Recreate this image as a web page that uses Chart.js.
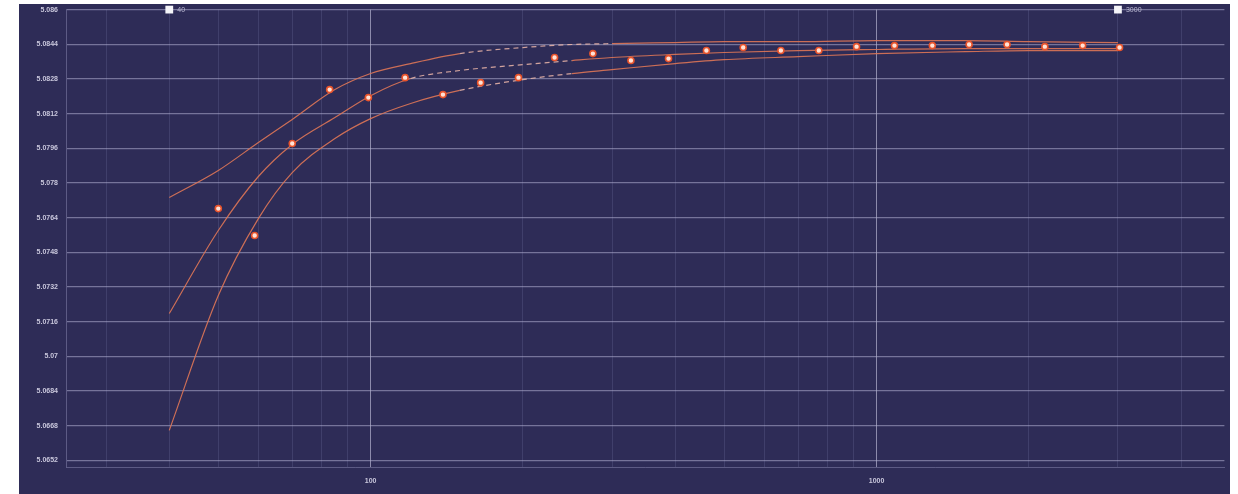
<!DOCTYPE html>
<html>
<head>
<meta charset="utf-8">
<script src="https://cdn.jsdelivr.net/npm/chart.js@4.4.1/dist/chart.umd.min.js"></script>
<style>
  html, body { margin: 0; padding: 0; background: #ffffff; width: 1238px; height: 494px; overflow: hidden; }
  #wrap { position: absolute; left: 19px; top: 4px; width: 1211px; height: 490px; background: #2e2c57; }
  canvas { display: block; }
</style>
</head>
<body>
<div id="wrap"><canvas id="chart" width="1211" height="490"></canvas></div>
<script>
// Measured samples
const sampleX = [50, 59, 70, 83, 99, 117, 139, 165, 196, 231, 275, 327, 388, 461, 545, 647, 769, 913, 1085, 1289, 1524, 1811, 2151, 2555, 3022];
const sampleY = [5.07682, 5.07558, 5.07982, 5.08231, 5.08194, 5.08286, 5.08208, 5.08263, 5.08286, 5.08379,
                 5.08397, 5.08365, 5.08374, 5.08411, 5.08425, 5.08411, 5.08411, 5.08429, 5.08434, 5.08434,
                 5.08439, 5.08439, 5.08429, 5.08434, 5.08425];

// Fitted curves, evaluated on a shared grid
const curveX = [40, 50, 60, 70, 85, 100, 120, 150, 200, 250, 300, 400, 500, 700, 1000, 1500, 2000, 3000];
const curveUpper  = [5.07733, 5.07858, 5.07987, 5.08093, 5.08231, 5.08305, 5.08351, 5.08397, 5.08425, 5.08439,
                     5.08443, 5.08448, 5.08452, 5.08452, 5.08457, 5.08457, 5.08452, 5.08448];
const curveMiddle = [5.07198, 5.07581, 5.07830, 5.07978, 5.08102, 5.08203, 5.08282, 5.08319, 5.08346, 5.08365,
                     5.08379, 5.08393, 5.08402, 5.08411, 5.08416, 5.08420, 5.08420, 5.08420];
const curveLower  = [5.06659, 5.07281, 5.07636, 5.07848, 5.08005, 5.08097, 5.08167, 5.08227, 5.08277, 5.08305,
                     5.08323, 5.08351, 5.08369, 5.08383, 5.08397, 5.08406, 5.08411, 5.08411];

// Fit range end points
const rangeMarks = [40, 3000];

// Axis ticks
const yTickValues = [5.0652, 5.0668, 5.0684, 5.0700, 5.0716, 5.0732, 5.0748, 5.0764, 5.0780, 5.0796, 5.0812, 5.0828, 5.0844, 5.0860];
const xTickValues = [30, 40, 50, 60, 70, 80, 90, 100, 200, 300, 400, 500, 600, 700, 800, 900, 1000, 2000, 3000, 4000];
const xLabelled   = [100, 1000];

const yMin = 5.0649, yMax = 5.0860;
const xMin = 25, xMax = 4870;

const toPoints = (xs, ys) => xs.map((x, i) => ({ x, y: ys[i] }));

// dashed stretch of each curve, in x units
function dashedBetween(lo, hi) {
  const inside = ctx => ctx.p0.parsed.x >= lo && ctx.p0.parsed.x < hi;
  return {
    borderDash: ctx => inside(ctx) ? [5, 4] : undefined,
    borderColor: ctx => inside(ctx) ? 'rgba(238,185,170,0.85)' : undefined
  };
}

function curveDataset(label, ys, lo, hi) {
  return {
    label,
    type: 'line',
    data: toPoints(curveX, ys),
    showLine: true,
    borderColor: 'rgba(222,118,86,0.9)',
    borderWidth: 1.2,
    pointRadius: 0,
    cubicInterpolationMode: 'monotone',
    fill: false,
    segment: dashedBetween(lo, hi),
    order: 2
  };
}

// labels next to the range markers
const markLabels = {
  id: 'markLabels',
  afterDatasetsDraw(chart) {
    const ds = chart.data.datasets.findIndex(d => d.label === 'range');
    const meta = chart.getDatasetMeta(ds);
    const ctx = chart.ctx;
    ctx.save();
    ctx.font = '7px "Liberation Sans", Arial, sans-serif';
    ctx.fillStyle = '#bdbbd4';
    ctx.textAlign = 'left';
    ctx.textBaseline = 'middle';
    meta.data.forEach((el, i) => {
      ctx.fillText(String(chart.data.datasets[ds].data[i].x), el.x + 8, el.y);
    });
    ctx.restore();
  }
};

new Chart(document.getElementById('chart'), {
  type: 'scatter',
  data: {
    datasets: [
      curveDataset('upper', curveUpper, 150, 300),
      curveDataset('middle', curveMiddle, 120, 250),
      curveDataset('lower', curveLower, 150, 250),
      {
        label: 'samples',
        data: toPoints(sampleX, sampleY),
        pointRadius: 3,
        pointBackgroundColor: '#ffe2d6',
        pointBorderColor: '#e8532b',
        pointBorderWidth: 1.6,
        order: 1
      },
      {
        label: 'range',
        data: rangeMarks.map(x => ({ x, y: yMax })),
        pointStyle: 'rect',
        pointRadius: 5.5,
        pointBackgroundColor: '#f4f4f8',
        pointBorderColor: '#f4f4f8',
        pointBorderWidth: 0,
        clip: false,
        order: 0
      }
    ]
  },
  options: {
    responsive: false,
    animation: false,
    events: [],
    layout: { padding: { top: 5, right: 2, left: 0, bottom: 0 } },
    plugins: {
      legend: { display: false },
      tooltip: { enabled: false }
    },
    scales: {
      x: {
        type: 'logarithmic',
        min: xMin,
        max: xMax,
        afterBuildTicks: s => { s.ticks = xTickValues.map(v => ({ value: v })); },
        afterFit: s => { s.height = 27; s.paddingLeft = 0; s.paddingRight = 0; },
        ticks: {
          autoSkip: false,
          maxRotation: 0,
          padding: 10,
          color: '#c9c7dc',
          font: { family: 'Liberation Sans', size: 7, weight: 'bold' },
          callback: v => xLabelled.includes(v) ? String(v) : ''
        },
        grid: {
          drawTicks: false,
          color: c => xLabelled.includes(c.tick && c.tick.value) ? 'rgba(205,203,228,0.6)' : 'rgba(120,118,168,0.25)',
          lineWidth: 1
        },
        border: { color: 'rgba(140,138,180,0.5)' }
      },
      y: {
        type: 'linear',
        min: yMin,
        max: yMax,
        afterBuildTicks: s => { s.ticks = yTickValues.map(v => ({ value: v })); },
        afterFit: s => { s.width = 47; s.paddingTop = 0; s.paddingBottom = 0; },
        ticks: {
          padding: 8,
          color: '#c9c7dc',
          font: { family: 'Liberation Sans', size: 7, weight: 'bold' },
          callback: v => Number(v).toFixed(4).replace(/0+$/, '').replace(/\.$/, '')
        },
        grid: {
          drawTicks: false,
          color: 'rgba(178,176,210,0.55)',
          lineWidth: 1.3
        },
        border: { color: 'rgba(140,138,180,0.5)' }
      }
    }
  },
  plugins: [markLabels]
});
</script>
</body>
</html>
